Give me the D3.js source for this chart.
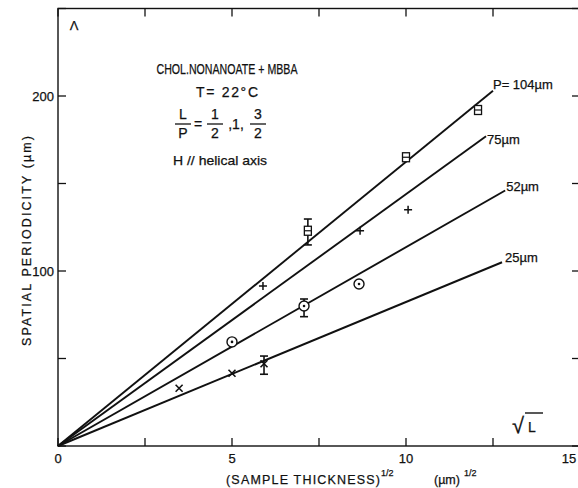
<!DOCTYPE html>
<meta charset="utf-8">
<style>
  body { margin: 0; background: white; }
  text { font-family: "Liberation Sans", Arial, sans-serif; fill: #111; stroke: #111; stroke-width: 0.25; }
</style>
<script src="https://d3js.org/d3.v7.min.js"></script>
<div id="chart"></div>
<script>
// fitted lines through the origin: end point of each line
var lineLabels = ["P= 104\u00b5m", "75\u00b5m", "52\u00b5m", "25\u00b5m"];
var lineEndX = [12.5, 12.3, 12.85, 12.76];
var lineEndY = [203, 177, 146, 105];

// measured points, one array pair per symbol
var squareX = [7.18, 10.0, 12.07], squareY = [123, 165, 192];
var plusX = [5.89, 8.68, 10.06],   plusY = [91.5, 123, 135];
var circleX = [5.0, 7.07, 8.65],   circleY = [59.5, 80, 92.6];
var crossX = [3.48, 5.0, 5.92],    crossY = [33, 41.6, 47];

// error bars
var errX = [7.18, 7.07, 5.92];
var errLo = [114.9, 73.9, 41];
var errHi = [129.7, 84, 51.4];

var xTickLabels = [0, 5, 10, 15];
var yTickLabels = [100, 200];

var W = 578, H = 488;
var svg = d3.select("#chart").append("svg")
    .attr("width", W).attr("height", H);

var x = d3.scaleLinear().domain([0, 15]).range([58, 580]);
var y = d3.scaleLinear().domain([0, 250]).range([446, 8.5]);

// frame
svg.append("rect")
    .attr("x", x(0)).attr("y", y(250))
    .attr("width", x(15) - x(0)).attr("height", y(0) - y(250))
    .attr("fill", "none").attr("stroke", "#111").attr("stroke-width", 1.4);

// inward ticks on all four sides
var xt = d3.range(0, 15.01, 2.5), yt = d3.range(0, 250.1, 50);
svg.append("g").selectAll("line").data(xt).enter().append("line")
    .attr("x1", d => x(d)).attr("x2", d => x(d))
    .attr("y1", y(0)).attr("y2", y(0) - 8)
    .attr("stroke", "#111").attr("stroke-width", 1.3);
svg.append("g").selectAll("line").data(xt).enter().append("line")
    .attr("x1", d => x(d)).attr("x2", d => x(d))
    .attr("y1", y(250)).attr("y2", y(250) + 8)
    .attr("stroke", "#111").attr("stroke-width", 1.3);
svg.append("g").selectAll("line").data(yt).enter().append("line")
    .attr("x1", x(0)).attr("x2", x(0) + 8)
    .attr("y1", d => y(d)).attr("y2", d => y(d))
    .attr("stroke", "#111").attr("stroke-width", 1.3);
svg.append("g").selectAll("line").data(yt).enter().append("line")
    .attr("x1", x(15)).attr("x2", x(15) - 8)
    .attr("y1", d => y(d)).attr("y2", d => y(d))
    .attr("stroke", "#111").attr("stroke-width", 1.3);

// tick labels (the last one sits at the window edge, so keep it inside)
svg.append("g").selectAll("text").data(xTickLabels).enter().append("text")
    .attr("x", d => Math.min(x(d), W - 9)).attr("y", y(0) + 17)
    .attr("text-anchor", "middle").attr("font-size", 13)
    .text(d => d);
svg.append("g").selectAll("text").data(yTickLabels).enter().append("text")
    .attr("x", x(0) - 4).attr("y", d => y(d) + 5)
    .attr("text-anchor", "end").attr("font-size", 13)
    .text(d => d);

// axis titles
svg.append("text").attr("x", 226).attr("y", 484).attr("font-size", 12.5)
    .attr("textLength", 154).attr("lengthAdjust", "spacing")
    .text("(SAMPLE THICKNESS)");
svg.append("text").attr("x", 381).attr("y", 476).attr("font-size", 9).text("1/2");
svg.append("text").attr("x", 434).attr("y", 484).attr("font-size", 12.5).text("(\u00b5m)");
svg.append("text").attr("x", 464).attr("y", 476).attr("font-size", 9).text("1/2");

svg.append("text")
    .attr("transform", "translate(31,241) rotate(-90)")
    .attr("text-anchor", "middle").attr("font-size", 12.5)
    .attr("textLength", 210).attr("lengthAdjust", "spacing")
    .text("SPATIAL  PERIODICITY  (\u00b5m)");

// lines from the origin
var labelDx = [0, 1, 1, 3], labelDy = [-2, 8, 0, 0];
lineEndX.forEach(function(ex, i) {
  svg.append("line")
      .attr("x1", x(0)).attr("y1", y(0))
      .attr("x2", x(ex)).attr("y2", y(lineEndY[i]))
      .attr("stroke", "#111").attr("stroke-width", 1.9);
  svg.append("text")
      .attr("x", x(ex) + labelDx[i]).attr("y", y(lineEndY[i]) + labelDy[i])
      .attr("font-size", 13).text(lineLabels[i]);
});

// error bars
errX.forEach(function(ex, i) {
  var g = svg.append("g").attr("stroke", "#111").attr("stroke-width", 1.6);
  g.append("line").attr("x1", x(ex)).attr("x2", x(ex))
      .attr("y1", y(errLo[i])).attr("y2", y(errHi[i]));
  g.append("line").attr("x1", x(ex) - 4).attr("x2", x(ex) + 4)
      .attr("y1", y(errLo[i])).attr("y2", y(errLo[i]));
  g.append("line").attr("x1", x(ex) - 4).attr("x2", x(ex) + 4)
      .attr("y1", y(errHi[i])).attr("y2", y(errHi[i]));
});

// squares with a bar across
squareX.forEach(function(sx, i) {
  var cx = x(sx), cy = y(squareY[i]);
  svg.append("rect").attr("x", cx - 3.5).attr("y", cy - 4.5)
      .attr("width", 7).attr("height", 9)
      .attr("fill", "white").attr("stroke", "#111").attr("stroke-width", 1.3);
  svg.append("line").attr("x1", cx - 3.5).attr("x2", cx + 3.5)
      .attr("y1", cy).attr("y2", cy).attr("stroke", "#111").attr("stroke-width", 1.2);
});

// plus signs
plusX.forEach(function(px, i) {
  var cx = x(px), cy = y(plusY[i]);
  svg.append("path")
      .attr("d", "M" + (cx - 4) + "," + cy + "H" + (cx + 4) + "M" + cx + "," + (cy - 4) + "V" + (cy + 4))
      .attr("stroke", "#111").attr("stroke-width", 1.5);
});

// circles with a centre dot
circleX.forEach(function(px, i) {
  var cx = x(px), cy = y(circleY[i]);
  svg.append("circle").attr("cx", cx).attr("cy", cy).attr("r", 5)
      .attr("fill", "white").attr("stroke", "#111").attr("stroke-width", 1.4);
  svg.append("circle").attr("cx", cx).attr("cy", cy).attr("r", 1.3).attr("fill", "#111");
});

// crosses
crossX.forEach(function(px, i) {
  var cx = x(px), cy = y(crossY[i]);
  svg.append("path")
      .attr("d", "M" + (cx - 3.5) + "," + (cy - 3.5) + "L" + (cx + 3.5) + "," + (cy + 3.5) +
                 "M" + (cx - 3.5) + "," + (cy + 3.5) + "L" + (cx + 3.5) + "," + (cy - 3.5))
      .attr("stroke", "#111").attr("stroke-width", 1.6);
});

// annotation block
svg.append("text").attr("x", 74).attr("y", 30).attr("text-anchor", "middle")
    .attr("font-size", 13).text("\u039b");
svg.append("text").attr("x", 227).attr("y", 74).attr("text-anchor", "middle")
    .attr("font-size", 14).attr("textLength", 141).attr("lengthAdjust", "spacingAndGlyphs")
    .text("CHOL.NONANOATE + MBBA");
svg.append("text").attr("x", 227).attr("y", 97).attr("text-anchor", "middle")
    .attr("font-size", 14).attr("textLength", 62).attr("lengthAdjust", "spacing")
    .text("T= 22\u00b0C");

// L/P = 1/2, 1, 3/2
function frac(cx, top, bottom) {
  svg.append("text").attr("x", cx).attr("y", 119).attr("text-anchor", "middle")
      .attr("font-size", 14).text(top);
  svg.append("line").attr("x1", cx - 8).attr("x2", cx + 8).attr("y1", 124).attr("y2", 124)
      .attr("stroke", "#111").attr("stroke-width", 1.3);
  svg.append("text").attr("x", cx).attr("y", 138).attr("text-anchor", "middle")
      .attr("font-size", 14).text(bottom);
}
frac(183, "L", "P");
svg.append("text").attr("x", 198).attr("y", 129).attr("text-anchor", "middle")
    .attr("font-size", 14).text("=");
frac(215, "1", "2");
svg.append("text").attr("x", 236).attr("y", 129).attr("text-anchor", "middle")
    .attr("font-size", 14).text(",1,");
frac(258, "3", "2");

svg.append("text").attr("x", 173).attr("y", 165)
    .attr("font-size", 13).attr("textLength", 94).attr("lengthAdjust", "spacingAndGlyphs")
    .text("H // helical axis");

// sqrt L
svg.append("text").attr("x", 512).attr("y", 433).attr("font-size", 22).text("\u221a");
svg.append("line").attr("x1", 525).attr("x2", 543).attr("y1", 413).attr("y2", 413)
    .attr("stroke", "#111").attr("stroke-width", 1.4);
svg.append("text").attr("x", 528).attr("y", 432).attr("font-size", 14).text("L");
</script>
